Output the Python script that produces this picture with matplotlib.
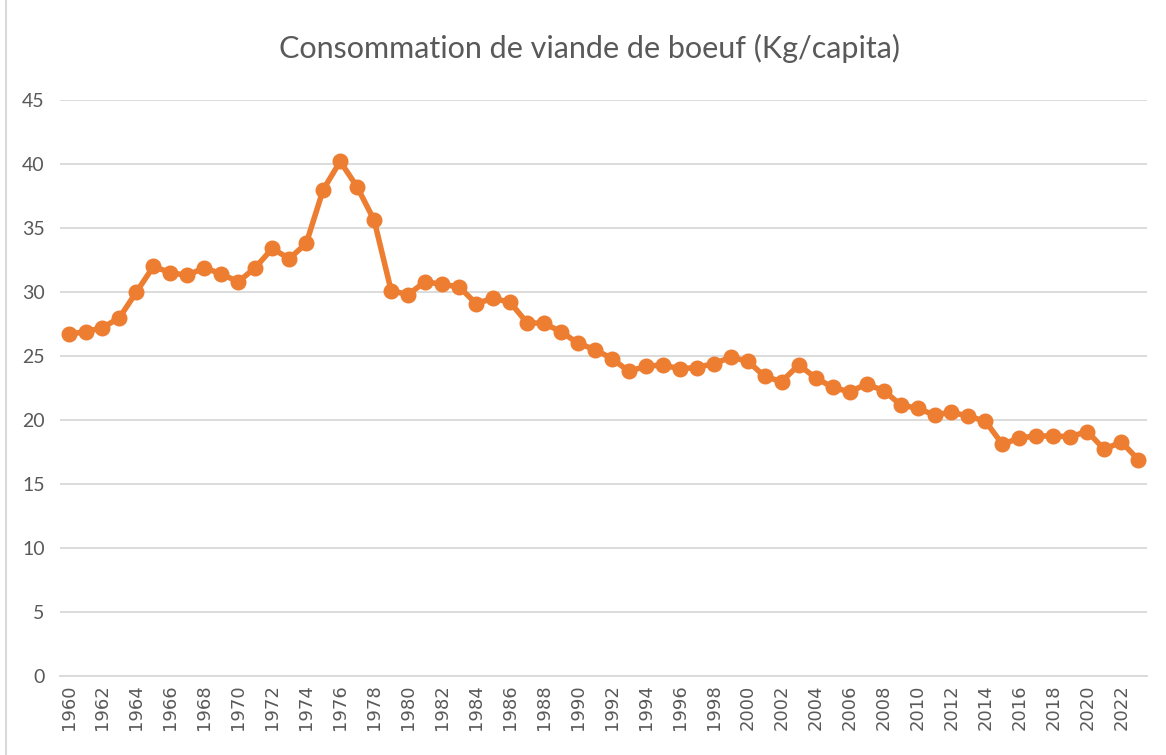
import matplotlib.pyplot as plt
import numpy as np

years = list(range(1960, 2024))
beef = [26.7, 26.9, 27.2, 28.0, 30.0, 32.0, 31.5, 31.3, 31.9, 31.4,
        30.8, 31.9, 33.4, 32.6, 33.8, 38.0, 40.2, 38.2, 35.6, 30.1,
        29.8, 30.8, 30.6, 30.4, 29.1, 29.5, 29.2, 27.6, 27.55, 26.9,
        26.0, 25.5, 24.8, 23.8, 24.2, 24.3, 24.0, 24.1, 24.4, 24.9,
        24.6, 23.4, 23.0, 24.3, 23.3, 22.55, 22.2, 22.8, 22.3, 21.2,
        20.9, 20.4, 20.6, 20.3, 19.9, 18.1, 18.6, 18.75, 18.75, 18.7,
        19.1, 17.7, 18.3, 16.9]
title = "Consommation de viande de boeuf (Kg/capita)"

orange = '#ED7D31'
grey_txt = '#595959'
grid_col = '#D9D9D9'

fig = plt.figure(figsize=(11.66, 7.55), dpi=100)
ax = fig.add_axes([0.0515, 0.1046, 0.932, 0.763])

ax.plot(years, beef, color=orange, lw=4, marker='o', ms=10.5,
        solid_joinstyle='round', zorder=3)

ax.set_xlim(1959.5, 2023.5)
ax.set_ylim(0, 45)
ax.set_yticks(np.arange(0, 46, 5))
ax.set_xticks(years[::2])
ax.set_xticklabels([str(y) for y in years[::2]], rotation=90,
                   fontsize=13, color=grey_txt, family='DejaVu Sans')
for lab in ax.get_yticklabels():
    lab.set_fontsize(14)
    lab.set_color(grey_txt)
    lab.set_family('Lato')

ax.grid(axis='y', color=grid_col, lw=1.3)
ax.set_axisbelow(True)
for s in ['top', 'right', 'left']:
    ax.spines[s].set_visible(False)
ax.spines['bottom'].set_color(grid_col)
ax.spines['bottom'].set_linewidth(1.3)
ax.tick_params(axis='both', length=0)
ax.tick_params(axis='y', pad=11)
ax.tick_params(axis='x', pad=6)

fig.text(0.506, 0.936, title, ha='center', va='center', fontsize=22,
         color=grey_txt, family='Lato')

# cadre du graphique
fig.patches.append(plt.Rectangle((0.005, -0.01), 1.0, 1.02, transform=fig.transFigure,
                                 fill=False, edgecolor=grid_col, lw=1.5))

fig.savefig('out.png', dpi=100)
